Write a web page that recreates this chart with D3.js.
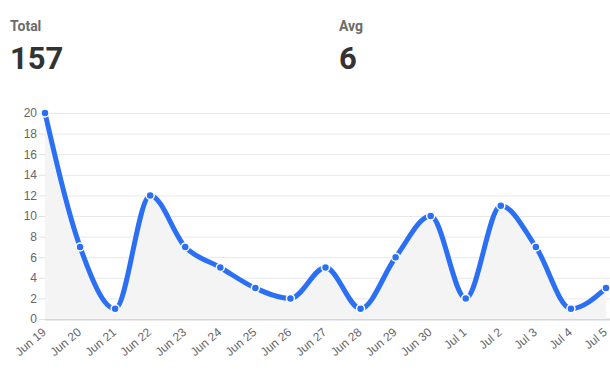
<!DOCTYPE html>
<html>
<head>
<meta charset="utf-8">
<script src="https://cdn.jsdelivr.net/npm/d3@7"></script>
<style>
  body { margin: 0; background: #fff; font-family: Roboto, "Open Sans", sans-serif; }
  .label { font-size: 14px; font-weight: 700; fill: #6b6b6b; }
  .bigNumber { font-size: 31px; font-weight: 700; fill: #333; }
  .tick text { font-family: "Liberation Sans", Arial, sans-serif; font-size: 12px; fill: #666; }
</style>
</head>
<body>
<div id="chart"></div>
<script>
var width = 610;
var height = 377;

var COLOR_LINE = '#2b6ff4';

// data
var days = ['Jun 19', 'Jun 20', 'Jun 21', 'Jun 22', 'Jun 23', 'Jun 24', 'Jun 25', 'Jun 26',
    'Jun 27', 'Jun 28', 'Jun 29', 'Jun 30', 'Jul 1', 'Jul 2', 'Jul 3', 'Jul 4', 'Jul 5'];
var counts = [20, 7, 1, 12, 7, 5, 3, 2, 5, 1, 6, 10, 2, 11, 7, 1, 3];
var yTicks = [0, 2, 4, 6, 8, 10, 12, 14, 16, 18, 20];
var summaryLabels = ['Total', 'Avg'];
var summaryValues = ['157', '6'];

var svg = d3.select('#chart')
    .append('svg')
    .attr('width', width)
    .attr('height', height);

// summary numbers on top
var summaryX = [10, 339];
summaryLabels.forEach(function (lbl, i) {
    var g = svg.append('g')
        .attr('transform', 'translate(' + summaryX[i] + ',0)');
    g.append('text')
        .text(lbl)
        .attr('class', 'label')
        .attr('y', 31);
    g.append('text')
        .text(summaryValues[i])
        .attr('class', 'bigNumber')
        .attr('y', 69);
});

var plotLeft = 45, plotRight = 606, plotTop = 113, plotBottom = 319;

var x = d3.scalePoint()
    .domain(days)
    .range([plotLeft, plotRight]);

var y = d3.scaleLinear()
    .domain([0, 20])
    .range([plotBottom, plotTop]);

// grid
svg.append('g')
    .selectAll('line')
    .data(yTicks)
    .enter().append('line')
    .attr('x1', plotLeft)
    .attr('x2', width)
    .attr('y1', function (d) { return y(d) + 0.5; })
    .attr('y2', function (d) { return y(d) + 0.5; })
    .attr('stroke', function (d) { return d == 0 ? '#d6d6d6' : '#e8e8e8'; })
    .attr('stroke-width', function (d) { return d == 0 ? 2 : 1; });

var yAxis = svg.append('g')
    .attr('transform', 'translate(' + plotLeft + ',0)')
    .call(d3.axisLeft(y).tickValues(yTicks).tickSize(6).tickPadding(2));
yAxis.select('.domain').attr('stroke', '#e0e0e0');
yAxis.selectAll('.tick line').attr('stroke', '#e0e0e0');

var xAxis = svg.append('g')
    .attr('transform', 'translate(0,' + plotBottom + ')')
    .call(d3.axisBottom(x).tickSize(0));
xAxis.select('.domain').remove();
xAxis.selectAll('.tick text')
    .attr('text-anchor', 'end')
    .attr('x', 0)
    .attr('y', 0)
    .attr('dy', '0.71em')
    .attr('transform', 'translate(-4,8) rotate(-40)');

// area + line
var data = days.map(function (d, i) { return { day: d, v: counts[i] }; });

svg.append('path')
    .datum(data)
    .attr('fill', '#f4f4f4')
    .attr('d', d3.area()
        .curve(d3.curveMonotoneX)
        .x(function (d) { return x(d.day); })
        .y0(plotBottom)
        .y1(function (d) { return y(d.v); }));

svg.append('path')
    .datum(data)
    .attr('fill', 'none')
    .attr('stroke', COLOR_LINE)
    .attr('stroke-width', 5)
    .attr('d', d3.line()
        .curve(d3.curveMonotoneX)
        .x(function (d) { return x(d.day); })
        .y(function (d) { return y(d.v); }));

svg.append('g')
    .selectAll('circle')
    .data(data)
    .enter().append('circle')
    .attr('cx', function (d) { return x(d.day); })
    .attr('cy', function (d) { return y(d.v); })
    .attr('r', 4)
    .attr('fill', COLOR_LINE)
    .attr('stroke', '#fff')
    .attr('stroke-width', 1.5);
</script>
</body>
</html>
